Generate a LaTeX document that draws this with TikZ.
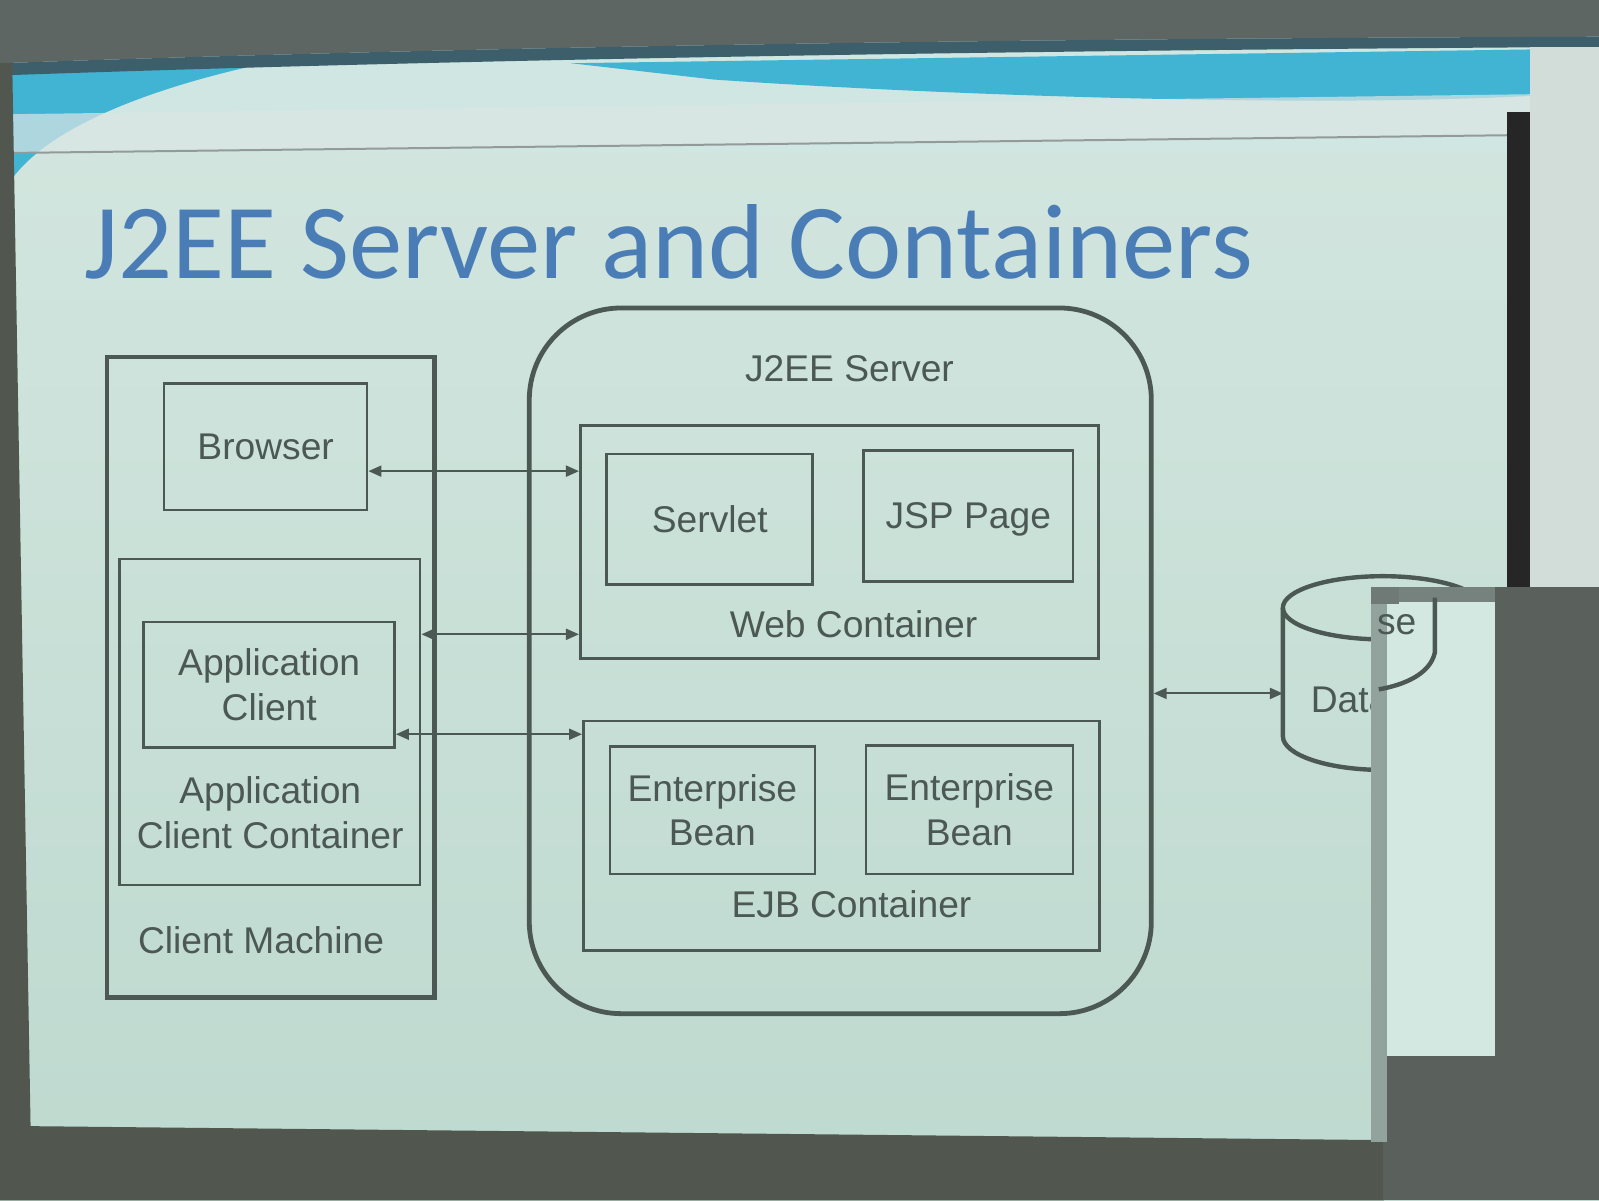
\documentclass[tikz,border=0pt]{standalone}
\usepackage{fontspec}
\setmainfont{Liberation Sans}
\newfontfamily\titlefont{Carlito}
\usetikzlibrary{arrows.meta}
\definecolor{slidetop}{HTML}{D4E7E0}
\definecolor{slidebot}{HTML}{BED9CF}
\definecolor{ink}{HTML}{4B5854}
\definecolor{titleblue}{HTML}{4A7DB5}
\definecolor{ceil}{HTML}{5D6662}
\definecolor{navy}{HTML}{3D5F6B}
\definecolor{bandpale}{HTML}{CFE6E3}
\definecolor{cyanband}{HTML}{41B3D3}
\definecolor{casing}{HTML}{DCE6E4}
\definecolor{floorgray}{HTML}{51574F}
\definecolor{wbbright}{HTML}{D3E8E1}
\definecolor{wbdark}{HTML}{5A605C}
\definecolor{frame}{HTML}{92A39D}
\definecolor{wall}{HTML}{D2DDD9}
\newcommand\diag{\fontsize{18.6pt}{22.4pt}\selectfont}
\newcommand\mybox[7]{\node[#1, minimum width={(#4-#2)*0.51pt}, minimum height={(#5-#3)*0.51pt}] (#6) at ({(#2+#4)/2},{(#3+#5)/2}) {#7};}
\tikzset{
  box/.style={draw=ink, line width=1.3pt, inner sep=0pt, text=ink, font=\diag, align=center},
  outerbox/.style={box, line width=2.4pt},
  lbl/.style={text=ink, font=\diag, align=center, inner sep=0pt},
  arr/.style={draw=ink, line width=1pt, {Triangle[length=6.5pt,width=5.5pt]}-{Triangle[length=6.5pt,width=5.5pt]}}
}
\begin{document}
\begin{tikzpicture}[x=0.51pt,y=-0.51pt]
\useasboundingbox (0,0) rectangle (1568,1177);
% ---------- background (photo of projected slide) ----------
\shade[top color=slidetop, bottom color=slidebot] (0,0) rectangle (1568,1177);
\fill[bandpale] (0,40) rectangle (1568,150);
\fill[cyanband] (10,62) -- (260,62) .. controls (130,90) and (45,130) .. (12,175) -- cycle;
\fill[cyanband] (560,62) -- (1535,48) -- (1535,92) .. controls (1300,108) and (900,92) .. (700,78) -- cycle;
\fill[casing, opacity=0.7] (10,112) -- (1530,92) -- (1530,132) -- (10,150) -- cycle;
\draw[ink!60, line width=1pt] (10,150) -- (1530,132);
\fill[ceil] (0,0) -- (1568,0) -- (1568,36) .. controls (900,38) and (400,48) .. (0,62) -- cycle;
\fill[navy] (0,62) .. controls (400,48) and (900,38) .. (1568,36) -- (1568,46) .. controls (900,50) and (400,60) .. (0,74) -- cycle;
\fill[wall] (1500,46) rectangle (1568,578);
\fill[black!85] (1478,110) rectangle (1500,578);
\fill[floorgray] (0,62) -- (12,62) -- (30,1106) -- (0,1106) -- cycle;
\fill[floorgray] (0,1104) -- (1357,1118) -- (1357,1177) -- (0,1177) -- cycle;
% ---------- title ----------
\node[anchor=base west, inner sep=0pt, text=titleblue, font=\titlefont\fontsize{53.3pt}{60pt}\selectfont] (title) at (82,273) {J2EE Server and Containers};
% ---------- client machine ----------
\mybox{outerbox}{105}{350}{426}{978}{cm}{}
\mybox{box}{161}{376}{360}{500}{browser}{Browser}
\mybox{box}{117}{548}{412}{868}{acc}{}
\mybox{box}{141}{610}{387}{733}{appc}{Application\\Client}
\node[lbl] (acclbl) at (265,797) {Application\\Client Container};
\node[lbl] (cmlbl) at (256,922) {Client Machine};
% ---------- J2EE server ----------
\mybox{outerbox, rounded corners=46pt}{519}{302}{1129}{994}{server}{}
\node[lbl] (serverlbl) at (833,362) {J2EE Server};
\mybox{box}{569}{417}{1077}{646}{webc}{}
\mybox{box}{595}{445}{797}{573}{servlet}{Servlet}
\mybox{box, text depth=0pt}{847}{442}{1052}{570}{jsp}{JSP Page}
\node[lbl] (weblbl) at (837,612) {Web Container};
\mybox{box}{572}{707}{1078}{932}{ejbc}{}
\mybox{box}{598}{732}{799}{857}{ejb1}{Enterprise\\Bean}
\mybox{box}{849}{731}{1052}{857}{ejb2}{Enterprise\\Bean}
\node[lbl] (ejblbl) at (835,887) {EJB Container};
% ---------- database ----------
\draw[ink, line width=2.2pt] (1356,596) ellipse [x radius=98, y radius=31];
\draw[ink, line width=2.2pt] (1258,596) -- (1258,722) arc[start angle=180, end angle=0, x radius=98, y radius=33] -- (1454,596);
\coordinate (dbw) at (1258,680);
\node[lbl, anchor=west] (db) at (1285,686) {Database};
% ---------- connectors ----------
\coordinate (y1) at (0,462);
\coordinate (y2) at (0,622);
\coordinate (y3) at (0,720);
\draw[arr] (browser.east |- y1) -- (webc.west |- y1);
\draw[arr] (acc.east |- y2) -- (webc.west |- y2);
\draw[arr] (appc.east |- y3) -- (ejbc.west |- y3);
\draw[arr] (server.east |- dbw) -- (dbw);
% ---------- whiteboard in front of the screen ----------
\fill[wbbright] (1350,580) rectangle (1466,1036);
\fill[wbdark] (1466,576) rectangle (1568,1177);
\fill[wbdark] (1356,1036) rectangle (1568,1177);
\fill[frame] (1344,582) rectangle (1360,1120);
\fill[frame!80!black] (1344,576) rectangle (1466,590);
\fill[ink!80] (1344,576) rectangle (1372,592);
\node[lbl, anchor=west] (dbshift) at (1350,613) {se};
\draw[ink, line width=2.2pt] (1407,586) -- (1407,640) .. controls (1402,662) and (1375,672) .. (1352,676);
\end{tikzpicture}
\end{document}
